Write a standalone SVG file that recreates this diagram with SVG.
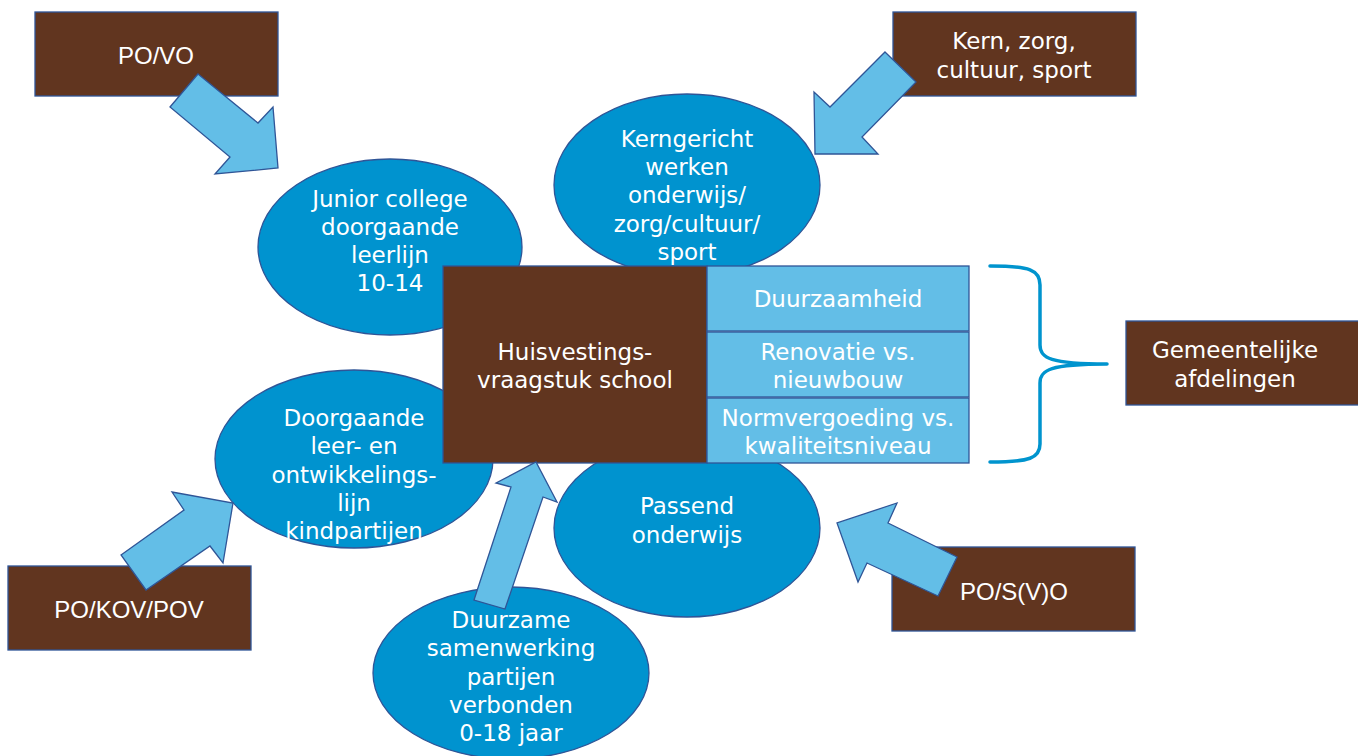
<svg xmlns="http://www.w3.org/2000/svg" width="1358" height="756" viewBox="0 0 1358 756">
<style>
.box{fill:#61351F;stroke:#2F5597;stroke-width:1.3}
.ell{fill:#0093CF;stroke:#2F5597;stroke-width:1.3}
.cell{fill:#63BEE7;stroke:#2F5597;stroke-width:1.3}
.arr{fill:#63BEE7;stroke:#2F5597;stroke-width:1.3;stroke-linejoin:miter}
.t{font-family:"DejaVu Sans",Verdana,sans-serif;font-size:23px;fill:#FFFFFF;text-anchor:middle}
.c{font-family:"Liberation Sans",Arial,sans-serif;font-size:24px;fill:#FFFFFF;text-anchor:middle}
.brace{fill:none;stroke:#0094CE;stroke-width:3.5;stroke-linecap:round;stroke-linejoin:round}
</style>
<rect width="1358" height="756" fill="#FFFFFF"/>

<g id="junior-college">
<ellipse class="ell" cx="390" cy="247" rx="132" ry="88"/>
<text class="t" x="390" y="207">Junior college</text>
<text class="t" x="390" y="235">doorgaande</text>
<text class="t" x="390" y="263">leerlijn</text>
<text class="t" x="390" y="291">10-14</text>
</g>
<g id="kerngericht">
<ellipse class="ell" cx="687" cy="185" rx="133" ry="91"/>
<text class="t" x="687" y="147">Kerngericht</text>
<text class="t" x="687" y="175">werken</text>
<text class="t" x="687" y="203">onderwijs/</text>
<text class="t" x="687" y="232">zorg/cultuur/</text>
<text class="t" x="687" y="260">sport</text>
</g>
<g id="doorgaande">
<ellipse class="ell" cx="354" cy="459" rx="139" ry="89"/>
<text class="t" x="354" y="426">Doorgaande</text>
<text class="t" x="354" y="454">leer- en</text>
<text class="t" x="354" y="483">ontwikkelings-</text>
<text class="t" x="354" y="511">lijn</text>
<text class="t" x="354" y="539">kindpartijen</text>
</g>
<g id="passend">
<ellipse class="ell" cx="687" cy="528" rx="133" ry="89"/>
<text class="t" x="687" y="514">Passend</text>
<text class="t" x="687" y="543">onderwijs</text>
</g>
<g id="duurzame">
<ellipse class="ell" cx="511" cy="673" rx="138" ry="86"/>
<text class="t" x="511" y="628">Duurzame</text>
<text class="t" x="511" y="656">samenwerking</text>
<text class="t" x="511" y="685">partijen</text>
<text class="t" x="511" y="713">verbonden</text>
<text class="t" x="511" y="741">0-18 jaar</text>
</g>

<g id="huisvesting">
<rect class="box" x="443" y="266" width="264" height="197"/>
<text class="t" x="575" y="360">Huisvestings-</text>
<text class="t" x="575" y="388">vraagstuk school</text>
</g>
<g id="duurzaamheid">
<rect class="cell" x="707" y="266" width="262" height="65"/>
<text class="t" x="838" y="307">Duurzaamheid</text>
</g>
<g id="renovatie">
<rect class="cell" x="707" y="332" width="262" height="65"/>
<text class="t" x="838" y="360">Renovatie vs.</text>
<text class="t" x="838" y="388">nieuwbouw</text>
</g>
<g id="normvergoeding">
<rect class="cell" x="707" y="398" width="262" height="65"/>
<text class="t" x="838" y="426">Normvergoeding vs.</text>
<text class="t" x="838" y="454">kwaliteitsniveau</text>
</g>

<g id="po-vo">
<rect class="box" x="35" y="12" width="243" height="84"/>
<text class="c" x="156" y="64">PO/VO</text>
</g>
<g id="kern-zorg">
<rect class="box" x="893" y="12" width="243" height="84"/>
<text class="t" x="1014" y="49">Kern, zorg,</text>
<text class="t" x="1014" y="78">cultuur, sport</text>
</g>
<g id="gemeentelijke">
<rect class="box" x="1126" y="321" width="240" height="84"/>
<text class="t" x="1235" y="358">Gemeentelijke</text>
<text class="t" x="1235" y="387">afdelingen</text>
</g>
<g id="po-kov-pov">
<rect class="box" x="8" y="566" width="243" height="84"/>
<text class="c" x="129" y="618">PO/KOV/POV</text>
</g>
<g id="po-svo">
<rect class="box" x="892" y="547" width="243" height="84"/>
<text class="c" x="1014" y="600">PO/S(V)O</text>
</g>

<g id="connectors">
<polygon class="arr" points="198,74 258,123 273,107 278,168 215,174 230,157 170,107"/>
<polygon class="arr" points="885,52 916,82 862,137 878,154 815,154 814,92 830,107"/>
<polygon class="arr" points="121,555 184,510 172,492 233,503 223,563 210,546 146,590"/>
<polygon class="arr" points="474,600 511,487 496,483 536,462 557,502 543,497 505,609"/>
<polygon class="arr" points="938,596 867,563 858,582 837,523 897,503 888,523 957,557"/>
<path class="brace" d="M990,266 C1030,266 1040,270 1040,285 L1040,345 C1040,358 1050,364 1107,364 C1050,364 1040,370 1040,383 L1040,444 C1040,458 1030,462 990,462"/>
</g>
</svg>
